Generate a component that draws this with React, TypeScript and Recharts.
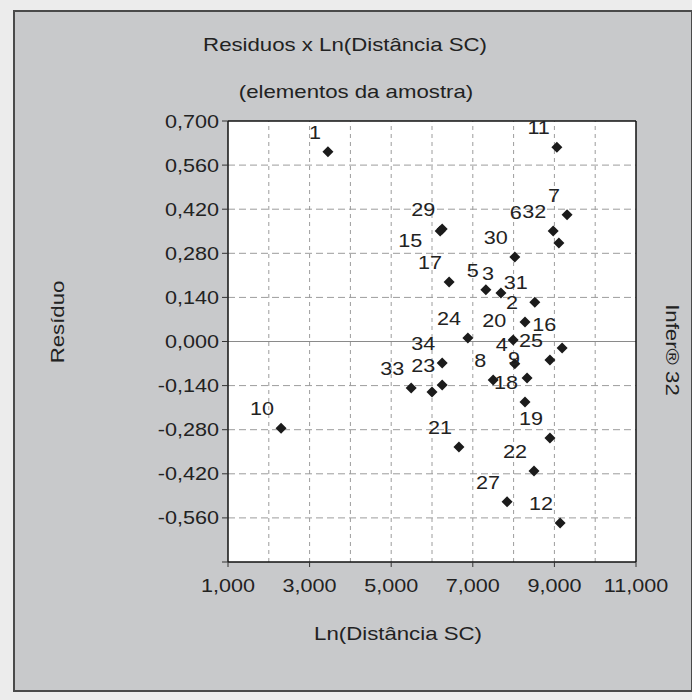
import React from 'react'
import { ScatterChart, Scatter, XAxis, YAxis, ReferenceLine, CartesianGrid } from 'recharts'

// ids of the sample elements, as printed next to each point ('' = label hidden in the scan)
const pointIds = ['1', '10', '11', '7', '32', '6', '29', '15', '30', '17', '5', '3', '31', '2', '20', '24', '16', '4', '25', '34', '9', '8', '33', '23', '', '18', '21', '19', '22', '27', '12']
const lnDist = [3.45, 2.3, 9.06, 9.31, 8.97, 9.11, 6.25, 6.2, 8.03, 6.42, 7.32, 7.69, 8.52, 8.28, 7.99, 6.88, 9.19, 8.03, 8.89, 6.25, 8.33, 7.5, 5.49, 6.25, 6.0, 8.28, 6.66, 8.89, 8.5, 7.84, 9.14]
const residuo = [0.602, -0.275, 0.617, 0.402, 0.351, 0.313, 0.357, 0.351, 0.268, 0.189, 0.164, 0.154, 0.125, 0.062, 0.005, 0.011, -0.021, -0.071, -0.059, -0.068, -0.116, -0.122, -0.148, -0.138, -0.16, -0.192, -0.335, -0.306, -0.411, -0.509, -0.576]

const xTicks = [1, 3, 5, 7, 9, 11]
const yTicks = [0.7, 0.56, 0.42, 0.28, 0.14, 0, -0.14, -0.28, -0.42, -0.56, -0.7]
const xGrid = [2, 3, 4, 5, 6, 7, 8, 9, 10]
const yGrid = [0.56, 0.42, 0.28, 0.14, -0.14, -0.28, -0.42, -0.56]

// labels that the original program pushed away from their point
const labelShift: Record<string, [number, number]> = { '6': [-30, -11], '15': [-11, 29], '16': [1, -4] }

const points = pointIds.map((id, i) => ({ id, x: lnDist[i], y: residuo[i] }))

const FONT = '"Liberation Sans", Arial, sans-serif'
const INK = '#222'

const fmt = (v: number) => v.toFixed(3).replace('.', ',')

function XTick({ x, y, payload }: any) {
    return (
        <g transform={`translate(${x},${y + 23}) scale(1.2,1)`}>
            <text textAnchor="middle" fontFamily={FONT} fontSize={18} fill={INK}>{fmt(payload.value)}</text>
        </g>
    )
}

function YTick({ x, y, payload }: any) {
    if (payload.value === -0.7) return null
    return (
        <g transform={`translate(${x},${y + 6.5}) scale(1.2,1)`}>
            <text textAnchor="end" fontFamily={FONT} fontSize={18} fill={INK}>{fmt(payload.value)}</text>
        </g>
    )
}

function Point({ cx, cy, payload }: any) {
    const [dx, dy] = labelShift[payload.id] || [0, 0]
    const r = 5.5
    return (
        <g>
            <path d={`M${cx},${cy - r}L${cx + r},${cy}L${cx},${cy + r}L${cx - r},${cy}Z`} fill="#1b1b1b" />
            {payload.id && (
                <g transform={`translate(${cx - 7 + dx},${cy - 13 + dy}) scale(1.2,1)`}>
                    <text textAnchor="end" fontFamily={FONT} fontSize={18} fill={INK}>{payload.id}</text>
                </g>
            )}
        </g>
    )
}

function Txt({ x, y, children, size = 18.5, rotate = 0 }: any) {
    return (
        <div
            style={{
                position: 'absolute', left: x, top: y, whiteSpace: 'nowrap',
                transform: `translate(-50%,-50%) rotate(${rotate}deg) scale(1.2,1)`,
                fontFamily: FONT, fontSize: size, color: INK, lineHeight: 1,
            }}
        >
            {children}
        </div>
    )
}

export default function App() {
    return (
        <div style={{ position: 'absolute', left: 0, top: 0, width: 692, height: 700, background: '#ececec', overflow: 'hidden' }}>
            <div style={{ position: 'absolute', left: 13, top: 10, width: 676, height: 678, background: '#c8c9cb', border: '2px solid #4a4a4a' }} />
            <Txt x={345} y={45}>Residuos x Ln(Distância SC)</Txt>
            <Txt x={356} y={92}>(elementos da amostra)</Txt>
            <Txt x={398} y={634}>Ln(Distância SC)</Txt>
            <Txt x={58} y={322} rotate={-90}>Resíduo</Txt>
            <Txt x={672} y={350} rotate={90}>Infer® 32</Txt>
            <div style={{ position: 'absolute', left: 0, top: 0 }}>
                <ScatterChart width={692} height={700} margin={{ top: 121, right: 56, bottom: 0, left: 0 }}>
                    <CartesianGrid horizontal={false} vertical={false} fill="#ffffff" />
                    {xGrid.map(v => (
                        <ReferenceLine key={'vx' + v} x={v} stroke="#9c9c9c" strokeDasharray="4 4" />
                    ))}
                    {yGrid.map(v => (
                        <ReferenceLine key={'hy' + v} y={v} stroke="#9c9c9c" strokeDasharray="7 4" />
                    ))}
                    <ReferenceLine y={0} stroke="#8a8a8a" />
                    <ReferenceLine y={0.7} stroke="#111" strokeWidth={1.5} />
                    <ReferenceLine x={11} stroke="#111" strokeWidth={1.5} />
                    <XAxis
                        type="number"
                        dataKey="x"
                        domain={[1, 11]}
                        ticks={xTicks}
                        height={138}
                        tickSize={5}
                        tickMargin={2}
                        axisLine={{ stroke: '#111', strokeWidth: 1.5 }}
                        tickLine={{ stroke: '#333' }}
                        tick={<XTick />}
                        allowDataOverflow
                    />
                    <YAxis
                        type="number"
                        dataKey="y"
                        domain={[-0.7, 0.7]}
                        ticks={yTicks}
                        width={228}
                        tickSize={6}
                        tickMargin={3}
                        axisLine={{ stroke: '#111', strokeWidth: 1.5 }}
                        tickLine={{ stroke: '#333' }}
                        tick={<YTick />}
                        allowDataOverflow
                    />
                    <Scatter data={points} shape={<Point />} isAnimationActive={false} />
                </ScatterChart>
            </div>
        </div>
    )
}
